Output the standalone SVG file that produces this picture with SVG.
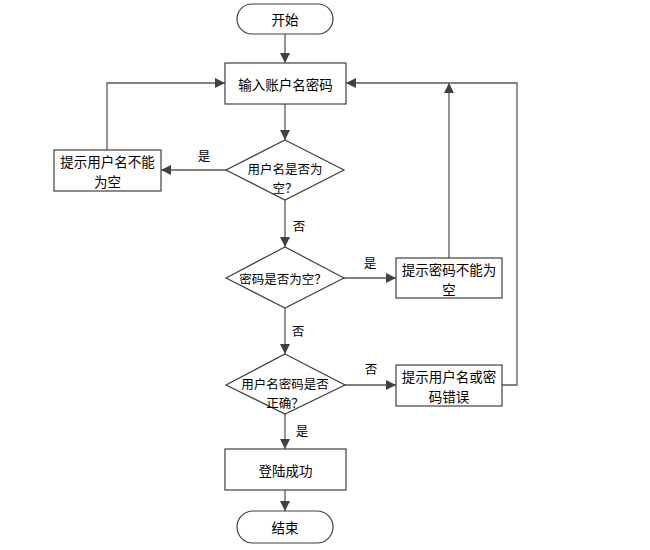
<svg xmlns="http://www.w3.org/2000/svg" width="650" height="550" viewBox="0 0 650 550">
<defs>
<style>
.shape{fill:#fff;stroke:#404040;stroke-width:1.2}
.conn{fill:none;stroke:#595959;stroke-width:1.3}
text{font-family:"Noto Sans CJK SC","Liberation Sans",sans-serif;fill:#000;text-anchor:middle;dominant-baseline:central}
.t{font-size:13.5px}
.d{font-size:12.5px}
.l{font-size:12.5px}
</style>
<marker id="arr" viewBox="0 0 10 10" refX="10" refY="5" markerWidth="10" markerHeight="10" markerUnits="userSpaceOnUse" orient="auto">
<path d="M0,0 L10,5 L0,10 Z" fill="#404040"/>
</marker>
</defs>
<rect width="650" height="550" fill="#fff"/>
<g id="connectors">
<line class="conn" x1="285" y1="34" x2="285" y2="63" marker-end="url(#arr)"/>
<line class="conn" x1="285" y1="104" x2="285" y2="140" marker-end="url(#arr)"/>
<line class="conn" x1="226" y1="170" x2="161" y2="170" marker-end="url(#arr)"/>
<polyline class="conn" points="107,150 107,83 225,83" marker-end="url(#arr)"/>
<line class="conn" x1="285" y1="200" x2="285" y2="247" marker-end="url(#arr)"/>
<line class="conn" x1="344" y1="278" x2="396" y2="278" marker-end="url(#arr)"/>
<line class="conn" x1="449" y1="258" x2="449" y2="83" marker-end="url(#arr)"/>
<line class="conn" x1="285" y1="308" x2="285" y2="354" marker-end="url(#arr)"/>
<line class="conn" x1="345" y1="385" x2="396" y2="385" marker-end="url(#arr)"/>
<polyline class="conn" points="502,385 517,385 517,83 346,83" marker-end="url(#arr)"/>
<line class="conn" x1="285" y1="414" x2="285" y2="449" marker-end="url(#arr)"/>
<line class="conn" x1="285" y1="490" x2="285" y2="511" marker-end="url(#arr)"/>
<text class="l" x="204" y="155">是</text>
<text class="l" x="299" y="225">否</text>
<text class="l" x="370" y="262">是</text>
<text class="l" x="298" y="330">否</text>
<text class="l" x="371" y="368">否</text>
<text class="l" x="302" y="430">是</text>
</g>
<g id="start">
<rect class="shape" x="237" y="4" width="96" height="30" rx="15" ry="15"/>
<text class="t" x="285" y="19">开始</text>
</g>
<g id="input">
<rect class="shape" x="225" y="63" width="121" height="41"/>
<text class="t" x="285.5" y="83.5">输入账户名密码</text>
</g>
<g id="check-user">
<polygon class="shape" points="285,140 344,170 285,200 226,170"/>
<text class="d" x="285" y="168">用户名是否为</text>
<text class="d" x="285" y="187">空？</text>
</g>
<g id="msg-user-empty">
<rect class="shape" x="54" y="150" width="107" height="41"/>
<text class="t" x="107.5" y="160.5">提示用户名不能</text>
<text class="t" x="107.5" y="180.5">为空</text>
</g>
<g id="check-pass">
<polygon class="shape" points="285,247 344,278 285,308 226,278"/>
<text class="d" x="283" y="278">密码是否为空？</text>
</g>
<g id="msg-pass-empty">
<rect class="shape" x="396" y="258" width="106" height="40"/>
<text class="t" x="449" y="268.5">提示密码不能为</text>
<text class="t" x="449" y="288.5">空</text>
</g>
<g id="check-correct">
<polygon class="shape" points="285,354 345,385 285,414 226,385"/>
<text class="d" x="285" y="383">用户名密码是否</text>
<text class="d" x="285" y="402">正确？</text>
</g>
<g id="msg-wrong">
<rect class="shape" x="396" y="365" width="106" height="41"/>
<text class="t" x="449" y="375.5">提示用户名或密</text>
<text class="t" x="449" y="395.5">码错误</text>
</g>
<g id="success">
<rect class="shape" x="225" y="449" width="121" height="41"/>
<text class="t" x="285.5" y="469.5">登陆成功</text>
</g>
<g id="end">
<rect class="shape" x="237" y="511" width="96" height="32" rx="16" ry="16"/>
<text class="t" x="285" y="527">结束</text>
</g>
</svg>
